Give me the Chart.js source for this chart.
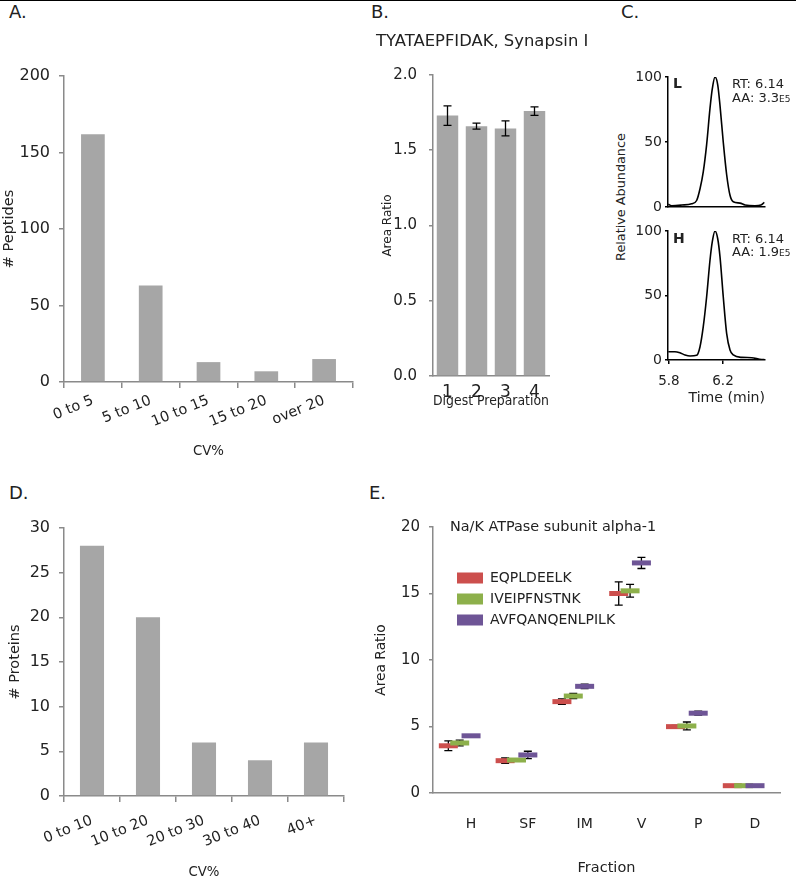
<!DOCTYPE html>
<html>
<head>
<meta charset="utf-8">
<title>Figure</title>
<script src="https://cdn.jsdelivr.net/npm/chart.js@4.4.1/dist/chart.umd.min.js"></script>
<style>
  html, body { margin: 0; padding: 0; background: #fff; }
  #fig { position: relative; width: 796px; height: 877px; overflow: hidden; font-family: 'DejaVu Sans', sans-serif; color: #222; }
  #fig canvas { position: absolute; }
  .txt { position: absolute; white-space: nowrap; line-height: 1; }
  .panel { font-size: 18px; }
  .note { font-size: 13px; }
  .topline { position: absolute; left: 0; top: 0; width: 796px; height: 1px; background: #000; }
</style>
</head>
<body>
<div id="fig">
  <div class="topline"></div>
  <div class="txt panel" style="left:9px;top:3px">A.</div>
  <div class="txt panel" style="left:371px;top:3px">B.</div>
  <div class="txt panel" style="left:621px;top:3px">C.</div>
  <div class="txt panel" style="left:9px;top:484px">D.</div>
  <div class="txt panel" style="left:369px;top:484px">E.</div>

  <canvas id="chartA" width="360" height="460" style="left:0;top:0"></canvas>
  <canvas id="chartB" width="232" height="410" style="left:370px;top:0"></canvas>
  <canvas id="chartCL" width="140" height="160" style="left:630px;top:60px"></canvas>
  <canvas id="chartCH" width="150" height="192" style="left:630px;top:215px"></canvas>
  <canvas id="chartD" width="360" height="411" style="left:0;top:470px"></canvas>
  <canvas id="chartE" width="428" height="407" style="left:368px;top:470px"></canvas>

  <div class="txt" style="left:673px;top:76px;font-size:14px;font-weight:bold">L</div>
  <div class="txt note" style="left:732px;top:77px">RT: 6.14</div>
  <div class="txt note" style="left:732px;top:91px">AA: 3.3<span style="font-size:9px">E5</span></div>
  <div class="txt" style="left:673px;top:231px;font-size:14px;font-weight:bold">H</div>
  <div class="txt note" style="left:732px;top:232px">RT: 6.14</div>
  <div class="txt note" style="left:732px;top:245px">AA: 1.9<span style="font-size:9px">E5</span></div>
  <div class="txt" style="left:621px;top:197px;font-size:12.8px;transform:translate(-50%,-50%) rotate(-90deg)">Relative Abundance</div>
</div>

<script>
// A: peptide CV distribution
const cvBinsA = ['0 to 5', '5 to 10', '10 to 15', '15 to 20', 'over 20'];
const peptideCounts = [162, 63, 13, 7, 15];
const peptideTicks = [0, 50, 100, 150, 200];

// B: TYATAEPFIDAK area ratio per digest
const digestPreps = ['1', '2', '3', '4'];
const areaRatioB = [1.73, 1.66, 1.645, 1.76];
const areaRatioErrB = [0.065, 0.02, 0.05, 0.028];
const areaTicksB = [0, 0.5, 1, 1.5, 2];

// C: chromatograms (light / heavy)
const timeTicks = [5.8, 6.2];
const abundanceTicks = [0, 50, 100];
const lightTime = [5.795, 5.82, 5.894, 5.968, 6.005, 6.03, 6.054, 6.079, 6.104, 6.121, 6.141, 6.161, 6.178, 6.202, 6.227, 6.252, 6.276, 6.326, 6.363, 6.437, 6.481, 6.506];
const lightAbund = [2.1, 1, 1.5, 2.5, 5, 14, 27, 48, 76, 91, 100, 94, 78, 50, 25, 9, 4, 3, 1.5, 1, 1.5, 3.5];
const heavyTime = [5.795, 5.844, 5.881, 5.919, 5.956, 6.005, 6.03, 6.054, 6.079, 6.104, 6.121, 6.141, 6.161, 6.178, 6.202, 6.227, 6.252, 6.276, 6.339, 6.413, 6.487, 6.506];
const heavyAbund = [6.4, 6.4, 5.6, 3.9, 3.1, 3.6, 10.3, 25.8, 49, 77.5, 91.7, 100, 94, 80, 49, 20.7, 7.8, 3.9, 2, 1.8, 0.3, 0.3];

// D: protein CV distribution
const cvBinsD = ['0 to 10', '10 to 20', '20 to 30', '30 to 40', '40+'];
const proteinCounts = [28, 20, 6, 4, 6];
const proteinTicks = [0, 5, 10, 15, 20, 25, 30];

// E: Na/K ATPase peptides across fractions
const fractions = ['H', 'SF', 'IM', 'V', 'P', 'D'];
const peptidesE = ['EQPLDEELK', 'IVEIPFNSTNK', 'AVFQANQENLPILK'];
const eqplValues = [3.55, 2.43, 6.87, 15.0, 4.99, 0.55];
const eqplErr = [0.37, 0.2, 0.2, 0.88, 0.1, 0];
const iveiValues = [3.76, 2.48, 7.29, 15.2, 5.04, 0.55];
const iveiErr = [0.22, 0.05, 0.2, 0.48, 0.3, 0];
const avfqValues = [4.3, 2.86, 8.02, 17.3, 6.0, 0.55];
const avfqErr = [0.05, 0.28, 0.17, 0.42, 0.15, 0];
const areaTicksE = [0, 5, 10, 15, 20];

Chart.defaults.font.family = "'DejaVu Sans', sans-serif";
Chart.defaults.color = '#222';
const axisGrey = '#8a8a8a';
const barGrey = '#a6a6a6';
const seriesColors = ['#cc4f4d', '#8db04b', '#6e5596'];
const seriesShift = [-0.4, -0.2, 0];

function fixWidth(w) {
  return s => { s.width = w; s.paddingTop = 0; s.paddingBottom = 0; };
}
function fixHeight(h, rightGap) {
  return s => { s.height = h; s.paddingLeft = 0; s.paddingRight = rightGap || 0; };
}
function tickList(arr) {
  return s => { s.ticks = arr.map(v => ({ value: v })); };
}

// I-shaped error bars from a list of +/- values per dataset
function drawErrorBars(chart, opts) {
  const ctx = chart.ctx;
  const yScale = chart.scales.y;
  const cap = opts.cap || 4;
  ctx.save();
  ctx.strokeStyle = '#000';
  ctx.lineWidth = 1.3;
  opts.errors.forEach((errs, di) => {
    const meta = chart.getDatasetMeta(di);
    meta.data.forEach((el, i) => {
      const err = errs[i];
      if (!err) return;
      const v = meta.controller.getParsed(i).y;
      const top = yScale.getPixelForValue(v + err);
      const bot = yScale.getPixelForValue(v - err);
      ctx.beginPath();
      ctx.moveTo(el.x, top); ctx.lineTo(el.x, bot);
      ctx.moveTo(el.x - cap, top); ctx.lineTo(el.x + cap, top);
      ctx.moveTo(el.x - cap, bot); ctx.lineTo(el.x + cap, bot);
      ctx.stroke();
    });
  });
  ctx.restore();
}
const errorBarPlugin = {
  id: 'errorBars',
  beforeDatasetsDraw(chart, args, opts) { if (opts.behind) drawErrorBars(chart, opts); },
  afterDatasetsDraw(chart, args, opts) { if (!opts.behind) drawErrorBars(chart, opts); }
};

// put the in-plot legend at a fixed offset from the plot corner
const legendPlacer = {
  id: 'legendPlacer',
  afterLayout(chart, args, opts) {
    const lg = chart.legend;
    const area = chart.chartArea;
    lg.left = area.left + opts.dx;
    lg.top = area.top + opts.dy;
    lg.right = area.right;
    lg.bottom = area.bottom;
  }
};

const base = { responsive: false, animation: false, devicePixelRatio: 1, events: [] };

function histogram(id, labels, values, ticks, yMax, yTitle, opt) {
  return new Chart(document.getElementById(id), {
    type: 'bar',
    data: {
      labels: labels,
      datasets: [{ data: values, backgroundColor: barGrey, barPercentage: opt.barPct, categoryPercentage: 1 }]
    },
    options: Object.assign({}, base, {
      layout: { padding: { left: 0, top: opt.top, right: opt.right, bottom: 0 } },
      plugins: { legend: { display: false }, tooltip: { enabled: false } },
      scales: {
        x: {
          grid: { drawOnChartArea: false, offset: true, tickLength: 6, color: axisGrey, lineWidth: 1.5 },
          border: { color: axisGrey, width: 1.5 },
          ticks: { autoSkip: false, minRotation: 22, maxRotation: 22, padding: opt.labelPad, font: { size: 14.5 } },
          title: { display: true, text: 'CV%', font: { size: 13.3 }, padding: 0 },
          afterFit: fixHeight(opt.xHeight)
        },
        y: {
          min: 0, max: yMax,
          afterBuildTicks: tickList(ticks),
          grid: { drawOnChartArea: false, tickLength: 5, color: axisGrey, lineWidth: 1.5 },
          border: { color: axisGrey, width: 1.5 },
          ticks: { padding: 9, font: { size: 16 } },
          title: { display: true, text: yTitle, font: { size: 14.5 }, padding: { top: opt.titlePad, bottom: 0 } },
          afterFit: fixWidth(64)
        }
      }
    })
  });
}

histogram('chartA', cvBinsA, peptideCounts, peptideTicks, 200, '# Peptides',
  { barPct: 0.41, top: 76, right: 7, labelPad: 4, xHeight: 78, titlePad: 0.3 });
histogram('chartD', cvBinsD, proteinCounts, proteinTicks, 30, '# Proteins',
  { barPct: 0.43, top: 58, right: 16, labelPad: 10, xHeight: 85, titlePad: 6.3 });

new Chart(document.getElementById('chartB'), {
  type: 'bar',
  data: {
    labels: digestPreps,
    datasets: [{ data: areaRatioB, backgroundColor: barGrey, barPercentage: 0.74, categoryPercentage: 1 }]
  },
  plugins: [errorBarPlugin],
  options: Object.assign({}, base, {
    // right margin comes from the x axis so the title can run past the plot
    layout: { padding: { left: 6, top: 25, right: 0, bottom: 0 } },
    plugins: {
      legend: { display: false }, tooltip: { enabled: false },
      title: { display: true, text: 'TYATAEPFIDAK, Synapsin I', align: 'start', color: '#222',
        font: { size: 16.4, weight: 'normal' }, padding: { top: 7.2, bottom: 23.1 } },
      errorBars: { errors: [areaRatioErrB], behind: false, cap: 4 }
    },
    scales: {
      x: {
        grid: { drawOnChartArea: false, drawTicks: false },
        border: { color: axisGrey, width: 1.5 },
        ticks: { padding: 6, font: { size: 17 } },
        title: { display: true, text: 'Digest Preparation', font: { size: 14 }, padding: 0 },
        afterFit: fixHeight(34, 53)
      },
      y: {
        min: 0, max: 2,
        afterBuildTicks: tickList(areaTicksB),
        grid: { drawOnChartArea: false, tickLength: 4, color: axisGrey, lineWidth: 1.5 },
        border: { color: axisGrey, width: 1.5 },
        ticks: { padding: 12, font: { size: 15 }, callback: v => v.toFixed(1) },
        title: { display: true, text: 'Area Ratio', font: { size: 12 }, padding: { top: 4.8, bottom: 0 } },
        afterFit: fixWidth(57)
      }
    }
  })
});

function chromatogram(id, times, abund, withTimeAxis) {
  return new Chart(document.getElementById(id), {
    type: 'line',
    data: {
      datasets: [{
        data: times.map((t, i) => ({ x: t, y: abund[i] })),
        borderColor: '#000', borderWidth: 1.6, pointRadius: 0,
        cubicInterpolationMode: 'monotone', fill: false
      }]
    },
    options: Object.assign({}, base, {
      layout: { padding: withTimeAxis ? { left: 0, top: 16, right: 15, bottom: 0 } : { left: 0, top: 17, right: 5, bottom: 13 } },
      plugins: { legend: { display: false }, tooltip: { enabled: false } },
      scales: {
        x: {
          type: 'linear', min: 5.793, max: 6.511,
          afterBuildTicks: tickList(timeTicks),
          grid: { drawOnChartArea: false, drawTicks: withTimeAxis, tickLength: 4, color: '#000', lineWidth: 1.5 },
          border: { color: '#000', width: 1.5 },
          ticks: { display: withTimeAxis, padding: 9, font: { size: 13.5 }, callback: v => v.toFixed(1) },
          title: { display: withTimeAxis, text: 'Time (min)', align: 'end', font: { size: 14.1 }, padding: 0 },
          afterFit: fixHeight(withTimeAxis ? 47 : 0)
        },
        y: {
          min: 0, max: 100,
          afterBuildTicks: tickList(abundanceTicks),
          grid: { drawOnChartArea: false, tickLength: 3, color: '#000', lineWidth: 1.5 },
          border: { color: '#000', width: 1.5 },
          ticks: { padding: 3, font: { size: 14 } },
          afterFit: fixWidth(38)
        }
      }
    })
  });
}
chromatogram('chartCL', lightTime, lightAbund, false);
chromatogram('chartCH', heavyTime, heavyAbund, true);

const eSeries = [eqplValues, iveiValues, avfqValues];
new Chart(document.getElementById('chartE'), {
  type: 'scatter',
  data: {
    datasets: peptidesE.map((name, s) => ({
      label: name,
      data: eSeries[s].map((v, i) => ({ x: i + seriesShift[s], y: v })),
      backgroundColor: seriesColors[s],
      borderColor: seriesColors[s],
      pointStyle: 'line',
      pointRadius: 9.5,
      pointBorderWidth: 5,
      order: 3 - s
    }))
  },
  plugins: [errorBarPlugin, legendPlacer],
  options: Object.assign({}, base, {
    layout: { padding: { left: 0, top: 57, right: 16, bottom: 0 } },
    plugins: {
      tooltip: { enabled: false },
      errorBars: { errors: [eqplErr, iveiErr, avfqErr], behind: true, cap: 4 },
      legendPlacer: { dx: 17, dy: -7.2 },
      legend: {
        display: true, position: 'chartArea', align: 'start',
        title: { display: true, text: 'Na/K ATPase subunit alpha-1', position: 'start', color: '#222',
          font: { size: 14.4 }, padding: { top: 0, bottom: 26.9 } },
        labels: {
          boxWidth: 26, boxHeight: 11, padding: 7, color: '#222', font: { size: 14 },
          generateLabels: chart => Chart.defaults.plugins.legend.labels.generateLabels(chart)
            .map(l => Object.assign(l, { lineWidth: 0 }))
            .sort((a, b) => a.datasetIndex - b.datasetIndex)
        }
      }
    },
    scales: {
      x: {
        type: 'linear', min: -0.67, max: 5.44,
        afterBuildTicks: s => { s.ticks = fractions.map((f, i) => ({ value: i })); },
        grid: { drawOnChartArea: false, drawTicks: false },
        border: { color: axisGrey, width: 1.5 },
        ticks: { autoSkip: false, maxRotation: 0, padding: 23, font: { size: 14 }, callback: v => fractions[v] },
        title: { display: true, text: 'Fraction', font: { size: 14.5 }, padding: 0 },
        afterFit: fixHeight(84)
      },
      y: {
        min: 0, max: 20,
        afterBuildTicks: tickList(areaTicksE),
        grid: { drawOnChartArea: false, tickLength: 4, color: axisGrey, lineWidth: 1.5 },
        border: { color: axisGrey, width: 1.5 },
        ticks: { padding: 9, font: { size: 15 } },
        title: { display: true, text: 'Area Ratio', font: { size: 13.8 }, padding: { top: 4.7, bottom: 0 } },
        afterFit: fixWidth(65)
      }
    }
  })
});
</script>
</body>
</html>
